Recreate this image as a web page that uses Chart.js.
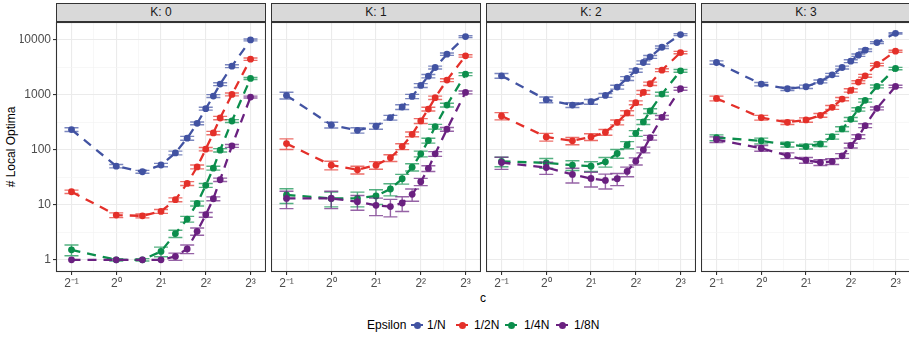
<!DOCTYPE html>
<html>
<head>
<meta charset="utf-8">
<script src="https://cdn.jsdelivr.net/npm/chart.js@4/dist/chart.umd.min.js"></script>
<style>
  body { margin:0; width:909px; height:338px; background:#fff; position:relative; overflow:hidden;
         font-family:'Liberation Sans', Arial, sans-serif; }
  canvas { position:absolute; }
  .strip { position:absolute; top:3px; height:19px; box-sizing:border-box; border:1px solid #333;
           background:#D9D9D9; color:#1A1A1A; font-size:12px; text-align:center; line-height:17px; }
  .ytitle { position:absolute; left:11px; top:147px; transform:translate(-50%,-50%) rotate(-90deg);
            font-size:12px; color:#000; white-space:nowrap; }
  .xtitle { position:absolute; left:483px; top:298px; transform:translate(-50%,-50%); font-size:12px; color:#000; }
  .lg { position:absolute; top:318px; height:14px; line-height:14px; font-size:12px; color:#000; white-space:nowrap; }
  .key { position:absolute; top:318px; width:12px; height:14px; }
  .key .ln { position:absolute; left:0; top:6px; width:12px; height:2px; }
  .key .pt { position:absolute; left:2.5px; top:3.5px; width:7px; height:7px; border-radius:50%; }
</style>
</head>
<body>
<div class="ytitle"># Local Optima</div>
<div class="xtitle">c</div>
<script>
// c values on the x axis (shown on a log2 scale)
const cValues = [0.5, 1, 1.5, 2, 2.5, 3, 3.5, 4, 4.5, 5, 6, 8];
const epsilonLabels = ['1/N', '1/2N', '1/4N', '1/8N'];
const panelLabels = ['K: 0', 'K: 1', 'K: 2', 'K: 3'];
const yTickValues = [1, 10, 100, 1000, 10000];

// mean number of local optima, one array per K and epsilon
const k0_N  = [234, 50.6, 40, 53, 88, 163, 304, 561, 953, 1571, 3337, 10000];
const k0_2N = [17.3, 6.5, 6.3, 7.6, 12.4, 24.5, 49, 103, 203, 380, 1021, 4464];
const k0_4N = [1.52, 1.0, 1.0, 1.42, 3.0, 5.5, 10.6, 22.6, 46.5, 98.6, 335, 1991];
const k0_8N = [1, 1, 1, 1, 1.15, 1.58, 3.3, 6.6, 12.9, 28.6, 118, 914];

const k1_N  = [980, 284, 227, 269, 386, 602, 939, 1486, 2193, 3148, 5500, 11500];
const k1_2N = [130, 52.7, 43.4, 52.7, 71.6, 115, 192, 336, 553, 889, 1858, 5130];
const k1_4N = [15.1, 13.1, 13.1, 14.5, 19.4, 29.8, 48.5, 84.6, 147.6, 265, 654, 2387];
const k1_8N = [13.1, 13.1, 11.4, 9.8, 9.3, 10.8, 15.5, 26.3, 45.9, 84.6, 237, 1110];

const k2_N  = [2225, 817, 654, 752, 980, 1387, 1991, 2780, 3883, 4920, 7364, 12500];
const k2_2N = [413, 172, 146, 172, 209, 317, 469, 721, 1110, 1594, 2818, 5890];
const k2_4N = [61.5, 58, 52.7, 50.6, 60.6, 85.9, 123, 200, 322, 509, 1035, 2742];
const k2_8N = [58.9, 47.8, 35.7, 30.2, 27.8, 29.8, 40.5, 62.3, 100, 167, 391, 1294];

const k3_N  = [3883, 1571, 1294, 1406, 1757, 2322, 3148, 4105, 5275, 6502, 8954, 13200];
const k3_2N = [864, 386, 317, 350, 425, 593, 840, 1207, 1710, 2225, 3573, 6233];
const k3_4N = [167, 146, 125, 115, 128, 174, 240, 360, 546, 795, 1426, 3020];
const k3_8N = [154, 107, 78.8, 65, 58.9, 61.5, 77.8, 120, 174, 276, 569, 1426];

// relative error (half-width of the error bar as a fraction of the mean)
const k0_N_err  = [0.08, 0.07, 0.06, 0.07, 0.08, 0.08, 0.06, 0.06, 0.06, 0.06, 0.06, 0.04];
const k0_2N_err = [0.07, 0.10, 0.08, 0.08, 0.08, 0.08, 0.08, 0.07, 0.07, 0.07, 0.06, 0.05];
const k0_4N_err = [0.22, 0.05, 0.05, 0.20, 0.15, 0.12, 0.10, 0.08, 0.08, 0.07, 0.06, 0.04];
const k0_8N_err = [0.0, 0.0, 0.0, 0.0, 0.15, 0.18, 0.15, 0.10, 0.08, 0.07, 0.06, 0.04];

const k1_N_err  = [0.14, 0.12, 0.11, 0.12, 0.10, 0.10, 0.09, 0.08, 0.07, 0.06, 0.05, 0.04];
const k1_2N_err = [0.22, 0.18, 0.16, 0.16, 0.14, 0.12, 0.10, 0.10, 0.08, 0.07, 0.06, 0.05];
const k1_4N_err = [0.30, 0.30, 0.30, 0.30, 0.25, 0.20, 0.15, 0.12, 0.10, 0.10, 0.08, 0.06];
const k1_8N_err = [0.35, 0.35, 0.30, 0.35, 0.35, 0.30, 0.25, 0.15, 0.12, 0.10, 0.08, 0.06];

const k2_N_err  = [0.10, 0.12, 0.10, 0.10, 0.08, 0.08, 0.08, 0.07, 0.07, 0.06, 0.05, 0.04];
const k2_2N_err = [0.15, 0.16, 0.15, 0.14, 0.12, 0.10, 0.10, 0.08, 0.08, 0.07, 0.06, 0.05];
const k2_4N_err = [0.20, 0.20, 0.20, 0.20, 0.20, 0.18, 0.15, 0.12, 0.10, 0.10, 0.08, 0.06];
const k2_8N_err = [0.25, 0.25, 0.30, 0.30, 0.30, 0.25, 0.20, 0.15, 0.12, 0.10, 0.08, 0.06];

const k3_N_err  = [0.07, 0.07, 0.07, 0.07, 0.06, 0.06, 0.06, 0.06, 0.05, 0.05, 0.04, 0.03];
const k3_2N_err = [0.10, 0.10, 0.09, 0.09, 0.08, 0.08, 0.07, 0.07, 0.06, 0.06, 0.05, 0.04];
const k3_4N_err = [0.12, 0.12, 0.10, 0.10, 0.10, 0.10, 0.10, 0.08, 0.07, 0.07, 0.06, 0.05];
const k3_8N_err = [0.12, 0.12, 0.12, 0.12, 0.12, 0.12, 0.10, 0.10, 0.08, 0.08, 0.06, 0.05];

const panelSeries = [
  [k0_N, k0_2N, k0_4N, k0_8N],
  [k1_N, k1_2N, k1_4N, k1_8N],
  [k2_N, k2_2N, k2_4N, k2_8N],
  [k3_N, k3_2N, k3_4N, k3_8N]
];
const panelErrors = [
  [k0_N_err, k0_2N_err, k0_4N_err, k0_8N_err],
  [k1_N_err, k1_2N_err, k1_4N_err, k1_8N_err],
  [k2_N_err, k2_2N_err, k2_4N_err, k2_8N_err],
  [k3_N_err, k3_2N_err, k3_4N_err, k3_8N_err]
];

const colors = ['#4253A2', '#E4302A', '#0B8E4C', '#6A2180'];
const errColors = ['rgba(66,83,162,0.7)', 'rgba(228,48,42,0.7)', 'rgba(11,142,76,0.7)', 'rgba(106,33,128,0.7)'];

// facet geometry
const panelLefts = [56, 271, 486, 701];
const panelWidth = 210;
const yAxisWidth = 36;
const sup = { '-1': '\u207B\u00B9', '0': '\u2070', '1': '\u00B9', '2': '\u00B2', '3': '\u00B3' };

Chart.defaults.font.family = "'Liberation Sans', Arial, sans-serif";
Chart.defaults.animation = false;

// error bars with caps, drawn through the y scale
const errorBars = {
  id: 'errorBars',
  afterDatasetDraw(chart, args) {
    const ds = chart.data.datasets[args.index];
    const ys = chart.scales.y;
    const ctx = chart.ctx;
    ctx.save();
    ctx.strokeStyle = ds.errColor;
    ctx.lineWidth = 1.4;
    args.meta.data.forEach((pt, i) => {
      const v = ds.data[i].y, r = ds.err[i];
      if (!r) return;
      const yLo = ys.getPixelForValue(v * (1 - r));
      const yHi = ys.getPixelForValue(v * (1 + r));
      ctx.beginPath();
      ctx.moveTo(pt.x, yLo); ctx.lineTo(pt.x, yHi);
      ctx.moveTo(pt.x - 7, yLo); ctx.lineTo(pt.x + 7, yLo);
      ctx.moveTo(pt.x - 7, yHi); ctx.lineTo(pt.x + 7, yHi);
      ctx.stroke();
    });
    ctx.restore();
  }
};

// dark frame around each panel
const panelFrame = {
  id: 'panelFrame',
  afterDraw(chart) {
    const a = chart.chartArea, ctx = chart.ctx;
    ctx.save();
    ctx.strokeStyle = '#333333';
    ctx.lineWidth = 1.1;
    ctx.strokeRect(a.left + 0.5, a.top + 0.5, a.right - a.left - 1, a.bottom - a.top - 1);
    ctx.restore();
  }
};

const isPow10 = v => Math.abs(Math.log10(v) - Math.round(Math.log10(v))) < 1e-6;
const isPow2 = v => Math.abs(Math.log2(v) - Math.round(Math.log2(v))) < 1e-6;
const noPadding = scale => { scale.paddingTop = 0; scale.paddingBottom = 0; scale.paddingLeft = 0; scale.paddingRight = 0; };

panelLabels.forEach((label, p) => {
  const first = p === 0;
  const strip = document.createElement('div');
  strip.className = 'strip';
  strip.style.left = panelLefts[p] + 'px';
  strip.style.width = panelWidth + 'px';
  strip.textContent = label;
  document.body.appendChild(strip);

  const canvas = document.createElement('canvas');
  const cw = panelWidth + (first ? yAxisWidth : 0);
  canvas.width = cw; canvas.height = 268;
  canvas.style.left = (panelLefts[p] - (first ? yAxisWidth : 0)) + 'px';
  canvas.style.top = '22px';
  canvas.style.width = cw + 'px'; canvas.style.height = '268px';
  document.body.appendChild(canvas);

  const datasets = epsilonLabels.map((lab, s) => ({
    label: lab,
    data: cValues.map((c, i) => ({ x: c, y: panelSeries[p][s][i] })),
    err: panelErrors[p][s],
    errColor: errColors[s],
    borderColor: colors[s],
    backgroundColor: colors[s],
    pointBackgroundColor: colors[s],
    pointBorderWidth: 0,
    pointRadius: 3.4,
    borderWidth: 2.3,
    borderDash: [9, 7],
    tension: 0,
    order: 3 - s,
    clip: false
  }));

  new Chart(canvas, {
    type: 'line',
    data: { datasets },
    options: {
      responsive: false,
      maintainAspectRatio: false,
      layout: { padding: 0, autoPadding: false },
      plugins: { legend: { display: false }, tooltip: { enabled: false } },
      scales: {
        x: {
          type: 'logarithmic',
          min: Math.pow(2, -1.346),
          max: Math.pow(2, 3.346),
          afterBuildTicks(scale) {
            const t = [];
            for (let e = -1; e <= 3; e += 0.5) t.push({ value: Math.pow(2, e) });
            scale.ticks = t;
          },
          afterFit(scale) { scale.height = 18; noPadding(scale); },
          border: { display: false },
          grid: {
            color: c => isPow2(c.tick.value) ? '#EBEBEB' : '#F4F4F4',
            lineWidth: c => isPow2(c.tick.value) ? 1.1 : 0.7,
            tickColor: c => isPow2(c.tick.value) ? '#333333' : 'rgba(0,0,0,0)',
            tickLength: 3,
            drawTicks: true
          },
          ticks: {
            autoSkip: false, maxRotation: 0, padding: 1,
            color: '#4D4D4D', font: { size: 12 },
            callback: v => isPow2(v) ? '2' + sup[String(Math.round(Math.log2(v)))] : ''
          }
        },
        y: {
          type: 'logarithmic',
          min: 0.616,
          max: 21190,
          afterBuildTicks(scale) {
            const t = [];
            for (let e = 0; e <= 4; e += 0.5) t.push({ value: Math.pow(10, e) });
            scale.ticks = t;
          },
          afterFit(scale) { scale.width = first ? yAxisWidth : 0; noPadding(scale); },
          border: { display: false },
          grid: {
            color: c => isPow10(c.tick.value) ? '#EBEBEB' : '#F4F4F4',
            lineWidth: c => isPow10(c.tick.value) ? 1.1 : 0.7,
            tickColor: c => isPow10(c.tick.value) ? '#333333' : 'rgba(0,0,0,0)',
            tickLength: 3,
            drawTicks: first
          },
          ticks: {
            display: first, padding: 2,
            color: '#4D4D4D', font: { size: 12 },
            callback: v => yTickValues.includes(Math.round(v)) && isPow10(v) ? String(Math.round(v)) : ''
          }
        }
      }
    },
    plugins: [errorBars, panelFrame]
  });
});

// legend: title, then a point-and-line key with its label for each epsilon
const legendTitleLeft = 367;
const legendKeyLefts = [411, 456, 505, 556];
const legendLabelLefts = [427, 474, 524, 574];
const lt = document.createElement('div');
lt.className = 'lg'; lt.style.left = legendTitleLeft + 'px'; lt.textContent = 'Epsilon';
document.body.appendChild(lt);
epsilonLabels.forEach((lab, s) => {
  const key = document.createElement('div');
  key.className = 'key';
  key.style.left = legendKeyLefts[s] + 'px';
  key.innerHTML = '<span class="ln" style="background:' + colors[s] + '"></span><span class="pt" style="background:' + colors[s] + '"></span>';
  document.body.appendChild(key);
  const t = document.createElement('div');
  t.className = 'lg'; t.style.left = legendLabelLefts[s] + 'px'; t.textContent = lab;
  document.body.appendChild(t);
});
</script>
</body>
</html>
